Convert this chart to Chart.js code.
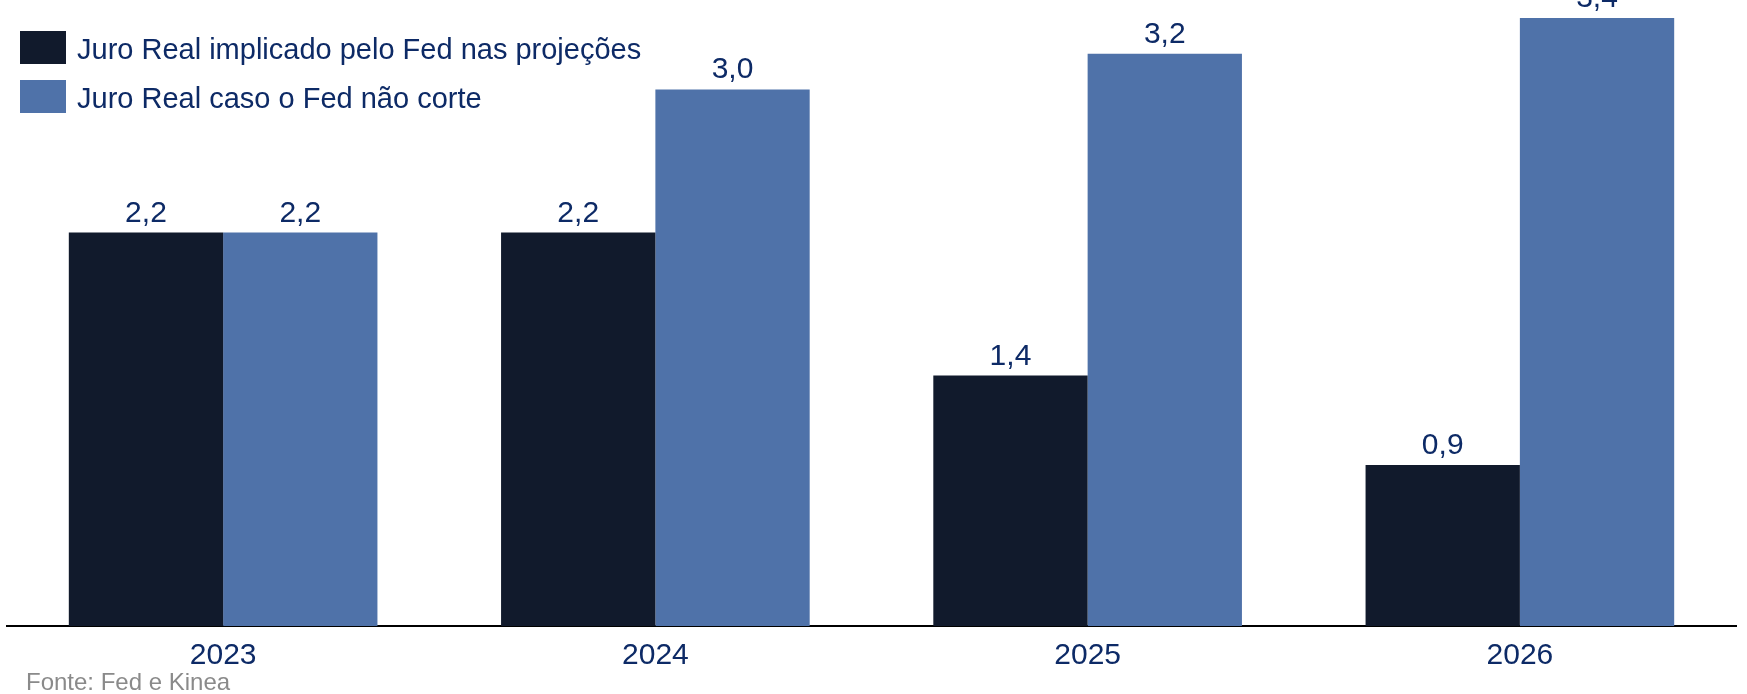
<!DOCTYPE html>
<html>
<head>
<meta charset="utf-8">
<script src="https://cdn.jsdelivr.net/npm/chart.js@4.4.1/dist/chart.umd.min.js"></script>
<style>
  html, body { margin: 0; padding: 0; background: #ffffff; }
  #wrap { width: 1747px; height: 694px; position: relative; }
</style>
</head>
<body>
<div id="wrap"><canvas id="c" width="1747" height="694"></canvas></div>
<script>
const categories = ['2023', '2024', '2025', '2026'];
const seriesNames = ['Juro Real implicado pelo Fed nas projeções', 'Juro Real caso o Fed não corte'];
const fedProjections = [2.2, 2.2, 1.4, 0.9];
const noCutScenario = [2.2, 3.0, 3.2, 3.4];
const sourceNote = 'Fonte: Fed e Kinea';

const TEXT_COLOR = '#0d2a66';
const COLORS = ['#111a2c', '#4f72a9'];
const FONT = '"Liberation Sans", Arial, sans-serif';

const fmt = v => v.toFixed(1).replace('.', ',');

const labelPlugin = {
  id: 'customDecor',
  afterDatasetsDraw(chart) {
    const ctx = chart.ctx;
    ctx.save();
    ctx.font = '30px ' + FONT;
    ctx.fillStyle = TEXT_COLOR;
    ctx.textAlign = 'center';
    ctx.textBaseline = 'alphabetic';
    chart.data.datasets.forEach((ds, i) => {
      const meta = chart.getDatasetMeta(i);
      meta.data.forEach((bar, j) => {
        ctx.fillText(fmt(ds.data[j]), bar.x, bar.y - 11);
      });
    });
    ctx.textAlign = 'left';
    ctx.font = '29px ' + FONT;
    chart.data.datasets.forEach((ds, i) => {
      const top = 31 + i * 49;
      ctx.fillStyle = ds.backgroundColor;
      ctx.fillRect(20, top, 46, 33);
      ctx.fillStyle = TEXT_COLOR;
      ctx.fillText(ds.label, 77, top + 28);
    });
    ctx.font = '24px ' + FONT;
    ctx.fillStyle = '#8a8a8a';
    ctx.fillText(sourceNote, 26, 690);
    ctx.restore();
  }
};

new Chart(document.getElementById('c'), {
  type: 'bar',
  data: {
    labels: categories,
    datasets: [
      { label: seriesNames[0], data: fedProjections, backgroundColor: COLORS[0], borderWidth: 0 },
      { label: seriesNames[1], data: noCutScenario, backgroundColor: COLORS[1], borderWidth: 0 }
    ]
  },
  options: {
    responsive: false,
    animation: false,
    devicePixelRatio: 1,
    layout: { padding: { left: 7, right: 11, top: 0, bottom: 8 } },
    plugins: { legend: { display: false }, tooltip: { enabled: false } },
    datasets: { bar: { categoryPercentage: 0.714, barPercentage: 1.0 } },
    scales: {
      x: {
        grid: { display: false, drawTicks: false },
        border: { display: true, color: '#000000', width: 2 },
        ticks: { color: TEXT_COLOR, font: { family: FONT, size: 30 }, padding: 12 }
      },
      y: {
        display: false,
        min: 0,
        max: 3.5
      }
    }
  },
  plugins: [labelPlugin]
});
</script>
</body>
</html>
